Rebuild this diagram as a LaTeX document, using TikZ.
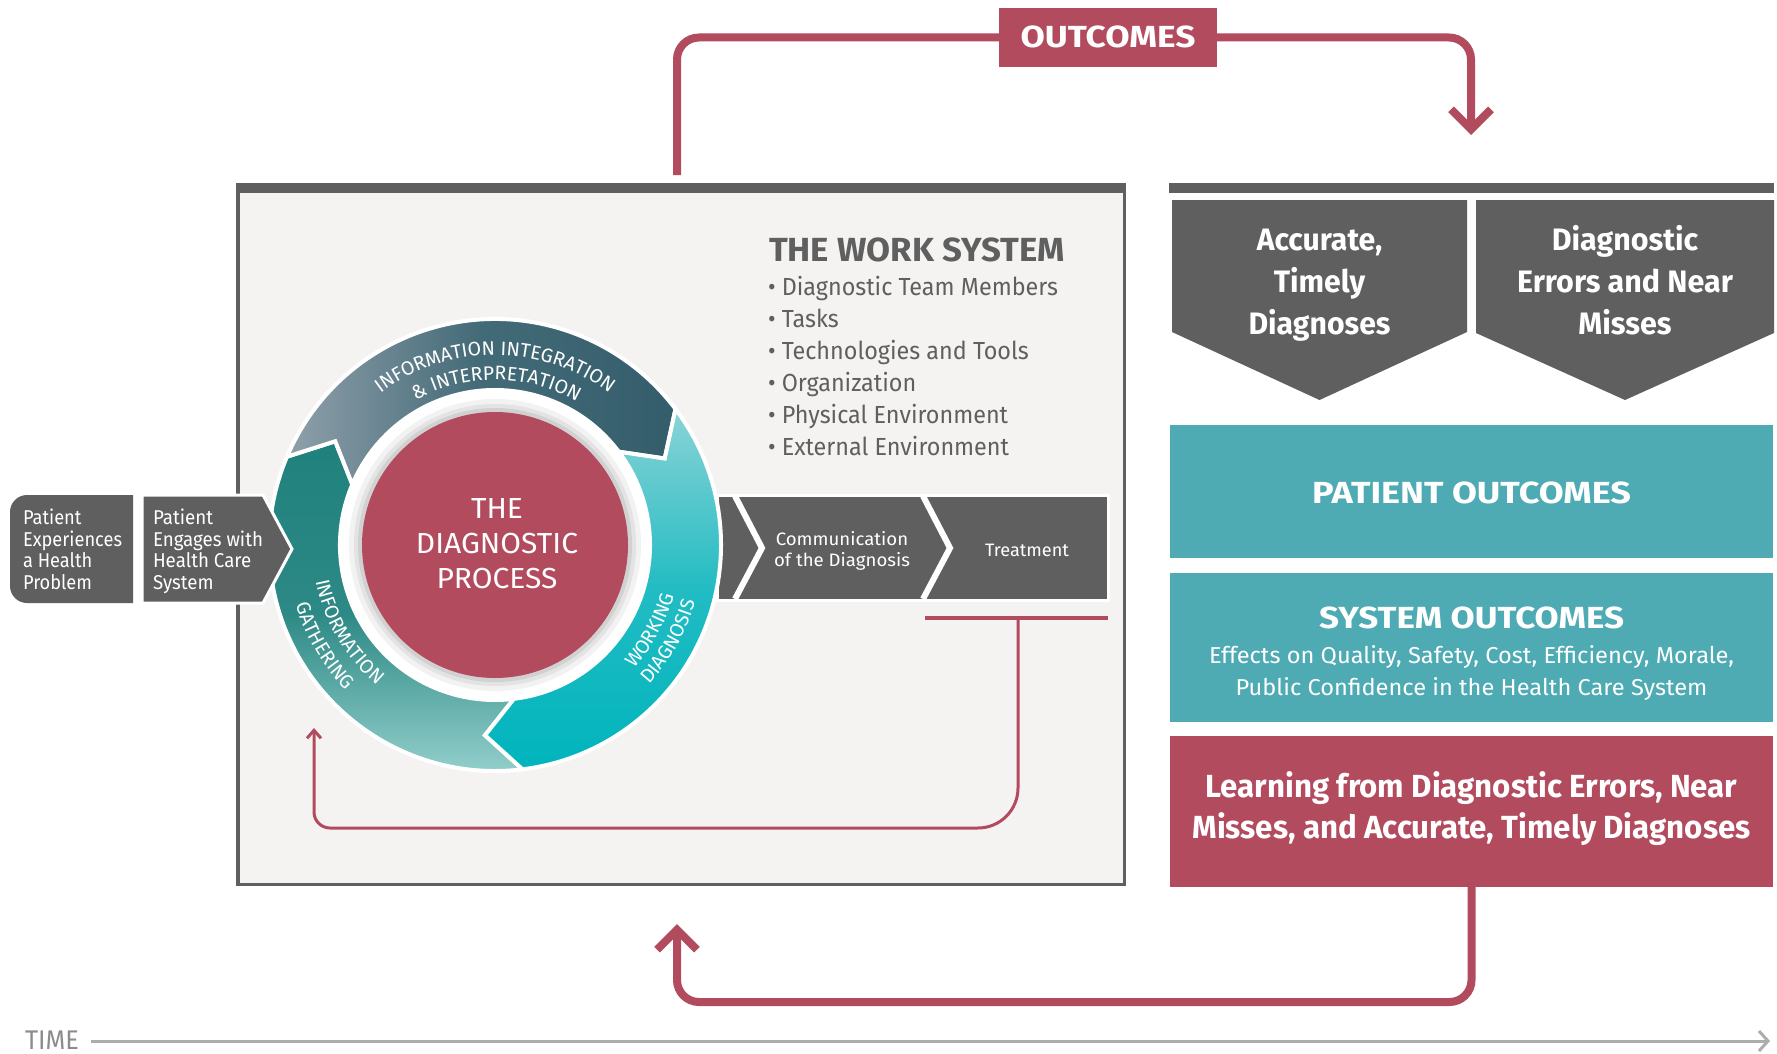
\documentclass[tikz,border=0pt]{standalone}
\usepackage{fontspec}
\setmainfont{Fira Sans}
\usepackage{graphicx}
\usetikzlibrary{arrows.meta,decorations.text}
\definecolor{dgray}{HTML}{5F5F5F}
\definecolor{crim}{HTML}{B24B5E}
\definecolor{tealbox}{HTML}{4EAAB3}
\definecolor{boxbg}{HTML}{F4F3F1}
\definecolor{timegray}{HTML}{ADADAD}
\definecolor{timetext}{HTML}{8C8C8C}
\definecolor{gTop}{HTML}{1F817D}
\definecolor{gMid}{HTML}{2D8985}
\definecolor{gBot}{HTML}{9AD4D0}
\definecolor{iLeft}{HTML}{8FA0AB}
\definecolor{iMid}{HTML}{436A77}
\definecolor{iRight}{HTML}{345D6B}
\definecolor{wTop}{HTML}{8AD3D6}
\definecolor{wMid}{HTML}{22BCC3}
\definecolor{wBot}{HTML}{00B4BD}
\newcommand\fs[2]{\fontsize{#1}{#2}\selectfont}
\newcommand\blk[3]{\resizebox{#1pt}{\height}{\begin{tabular}[t]{@{}#2@{}}#3\end{tabular}}}
\newcommand\ringfont{\fontsize{19.5}{19.5}\selectfont\color{white}}
\newcommand\ringseg[3]{\path[#3] (#1:226) arc[start angle=#1, end angle=#2, radius=226] -- ({#2-10}:190.5) -- (#2:155) arc[start angle=#2, end angle=#1, radius=155] -- ({#1-10}:190.5) -- cycle;}
\newcommand\ringtext[4]{\path[decorate, decoration={text along path, text align=center, text={|\ringfont|#4}}] (#1:#3) arc[start angle=#1, end angle=#2, radius=#3];}
\begin{document}
\begin{tikzpicture}[x=1pt,y=1pt,
  txt/.style={inner sep=0pt, outer sep=0pt},
  fb/.style={draw=crim, line width=8pt, rounded corners=22pt},
  barb/.style={-{Straight Barb[length=20pt,width=40pt]}},
  loopline/.style={draw=crim, line width=3pt},
  darkbox/.style={fill=dgray},
  colbox/.style={minimum width=603pt, inner sep=0pt, outer sep=0pt, anchor=north west}]
\useasboundingbox (0,0) rectangle (1777,-1054);
\fill[white] (0,0) rectangle (1777,-1054);

% ---------- work system box ----------
\node[fill=boxbg, draw=dgray, line width=3.5pt, minimum width=886.5pt, minimum height=699.5pt,
      inner sep=0pt, outer sep=0pt, anchor=north west] (ws) at (237.75,-184.75) {};
\fill[dgray] (236,-183) rectangle (1126,-192.5);

% ---------- top OUTCOMES arrow ----------
\coordinate (wsTop) at (677,-175);
\coordinate (topTip) at (1471,-135);
\node[fill=crim, minimum width=218pt, minimum height=59pt, inner sep=0pt, outer sep=0pt] (outc) at (1108,-37.5) {};
\draw[fb] (wsTop) |- (outc.west);
\draw[fb, barb] (outc.east) -| (topTip);
\node[txt, anchor=base, text=white, font=\bfseries\fs{30.5}{36}] (outct) at (1108,-48) {\resizebox{175pt}{\height}{OUTCOMES}};

% ---------- right column ----------
\fill[dgray] (1169,-183) rectangle (1774,-192.5);
\path[darkbox] (1172,-200) -- (1467,-200) -- (1467,-332) -- (1319.5,-400) -- (1172,-332) -- cycle;
\path[darkbox] (1476,-200) -- (1774,-200) -- (1774,-333) -- (1625,-400) -- (1476,-333) -- cycle;
\node[txt, anchor=base, text=white, font=\bfseries\fs{31}{42}] (acc) at (1319.5,-250) {\blk{142}{c}{Accurate,\\Timely\\Diagnoses}};
\node[txt, anchor=base, text=white, font=\bfseries\fs{31}{42}] (err) at (1625,-250) {\blk{216}{c}{Diagnostic\\Errors and Near\\Misses}};

\node[colbox, fill=tealbox, minimum height=133pt] (pat) at (1170,-425) {};
\node[colbox, fill=tealbox, minimum height=149pt] (sys) at (1170,-573) {};
\node[colbox, fill=crim, minimum height=151pt] (learn) at (1170,-736) {};
\node[txt, anchor=base, text=white, font=\bfseries\fs{30.5}{36}] (patt) at (1471.5,-503) {\resizebox{319pt}{\height}{PATIENT OUTCOMES}};
\node[txt, anchor=base, text=white, font=\bfseries\fs{30.5}{36}] (syst) at (1471.5,-628) {\resizebox{305pt}{\height}{SYSTEM OUTCOMES}};
\node[txt, anchor=base, text=white, font=\fs{23}{32}] (eff) at (1471.5,-663) {\blk{525}{c}{Effects on Quality, Safety, Cost, Efficiency, Morale,\\Public Confidence in the Health Care System}};
\node[txt, anchor=base, text=white, font=\bfseries\fs{32}{41}] (learnt) at (1471.5,-797) {\blk{558}{c}{Learning from Diagnostic Errors, Near\\Misses, and Accurate, Timely Diagnoses}};

% ---------- bottom feedback arrow ----------
\coordinate (btTip) at (677,-924);
\draw[fb, barb] (learn.south) -- ++(0,-115) -| (btTip);

% ---------- time axis ----------
\node[txt, anchor=base west, text=timetext, font=\fs{27}{30}] (time) at (25,-1049) {\resizebox{54pt}{\height}{TIME}};
\coordinate (timeEnd) at (1770,-1041);
\draw[timegray, line width=3pt, -{Straight Barb[length=9pt,width=20pt]}] (time.east |- timeEnd) ++(12,0) -- (timeEnd);

% ---------- process bar on the right of the circle ----------
\path[fill=dgray, draw=white, line width=3pt] (717,-495) rectangle (1108,-600);
\draw[white, line width=6pt] (735,-496) -- (762,-548) -- (735,-599);
\draw[white, line width=6pt] (923,-496) -- (950,-548) -- (923,-599);
\node[txt, anchor=base, text=white, font=\fs{18}{21}] (com) at (842,-545) {\blk{136}{c}{Communication\\of the Diagnosis}};
\node[txt, anchor=base, text=white, font=\fs{18}{21}] (trt) at (1027,-556) {\resizebox{84pt}{\height}{Treatment}};

% ---------- inner feedback loop ----------
\coordinate (tL) at (925,-618);
\coordinate (tR) at (1108,-618);
\coordinate (tM) at (1018,-618);
\coordinate (igTip) at (314,-728);
\draw[crim, line width=4pt] (tL) -- (tR);
\draw[loopline, -{Straight Barb[length=8pt,width=14pt]}] (tM) [rounded corners=40pt] -- (1018,-828) -- (640,-828) [rounded corners=16pt] -- (314,-828) -- (igTip);

% ---------- the diagnostic process circle ----------
\begin{scope}[shift={(495,-545)}]
  \fill[white] (0,0) circle[radius=154];
  \fill[black!5] (0,0) circle[radius=146];
  \fill[black!11] (0,0) circle[radius=141];
  \fill[black!18] (0,0) circle[radius=137];
  \fill[crim] (0,0) circle[radius=133];
  \ringseg{277}{157}{top color=gTop, bottom color=gBot, middle color=gMid, draw=white, line width=4pt}
  \ringseg{157}{37}{left color=iLeft, right color=iRight, middle color=iMid, draw=white, line width=4pt}
  \ringseg{37}{-83}{top color=wTop, bottom color=wBot, middle color=wMid, draw=white, line width=4pt}
  \ringtext{140}{40}{190}{INFORMATION INTEGRATION}
  \ringtext{139.5}{39.5}{165}{{\&} INTERPRETATION}
  \ringtext{180.6}{240.6}{183}{INFORMATION}
  \ringtext{180.5}{240.5}{208}{GATHERING}
  \ringtext{-58.7}{1.3}{186}{WORKING}
  \ringtext{-59}{1}{208}{DIAGNOSIS}
\end{scope}
\node[txt, anchor=base, text=white, font=\fs{29}{35}] (dp) at (497,-518) {\blk{162}{c}{THE\\DIAGNOSTIC\\PROCESS}};

% ---------- patient chevrons ----------
\path[darkbox] (133,-495) -- (27,-495) arc[start angle=90, end angle=180, radius=17] -- (10,-586) arc[start angle=180, end angle=270, radius=17] -- (133,-603) -- cycle;
\path[fill=dgray, draw=white, line width=3pt] (142,-495) -- (263,-495) -- (292,-549) -- (263,-603) -- (142,-603) -- cycle;
\node[txt, anchor=base west, text=white, font=\fs{20}{21.7}] (p1) at (23,-524) {\blk{99}{l}{Patient\\Experiences\\a Health\\Problem}};
\node[txt, anchor=base west, text=white, font=\fs{20}{21.7}] (p2) at (153,-524) {\blk{110}{l}{Patient\\Engages with\\Health Care\\System}};

% ---------- work system text ----------
\node[txt, anchor=base west, text=dgray, font=\bfseries\fs{33.4}{36}] (wst) at (769,-261) {\resizebox{296pt}{\height}{THE WORK SYSTEM}};
\node[txt, anchor=base west, text=dgray, font=\fs{24.7}{32}] (wsl) at (768,-295) {\blk{290}{l}{\textbullet\ Diagnostic Team Members\\\textbullet\ Tasks\\\textbullet\ Technologies and Tools\\\textbullet\ Organization\\\textbullet\ Physical Environment\\\textbullet\ External Environment}};
\end{tikzpicture}
\end{document}
